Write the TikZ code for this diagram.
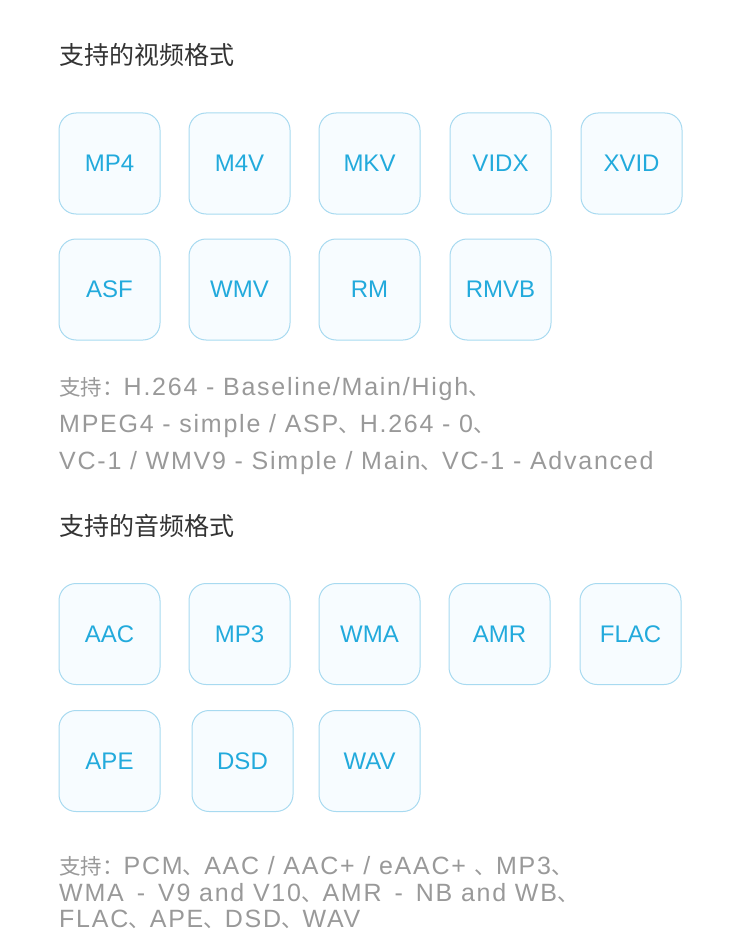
\documentclass[tikz,border=0pt]{standalone}
\usepackage{fontspec}
\setmainfont{Liberation Sans}
\newfontfamily\cjk{Noto Sans CJK SC}
\newfontfamily\notefont[LetterSpace=7]{Liberation Sans}
\definecolor{boxline}{HTML}{A8DAF0}
\definecolor{boxfill}{HTML}{F7FCFF}
\definecolor{fmtblue}{HTML}{22AADC}
\definecolor{titlegray}{HTML}{333333}
\definecolor{notegray}{HTML}{999999}
\newcommand{\zh}[1]{{\cjk\fontsize{21.5}{21.5}\selectfont #1}}
\newcommand{\dun}{\zh{、}}

\begin{document}
\begin{tikzpicture}[x=1pt,y=-1pt,
   fmt/.style={draw=boxline,fill=boxfill,line width=1pt,rounded corners=17pt,
               minimum size=101pt,inner sep=0pt,text=fmtblue,
               font=\fontsize{24}{24}\selectfont},
   title/.style={anchor=base west,inner sep=0pt,text=titlegray,
               font=\cjk\fontsize{25}{25}\selectfont},
   note/.style={anchor=base west,inner sep=0pt,text=notegray,
               font=\notefont\fontsize{25}{25}\selectfont}]

\useasboundingbox (0,0) rectangle (740,952);

% video
\node[title] (vtitle) at (59,65) {支持的视频格式};

\node[fmt] (mp4)  at (109.5,163.5) {MP4};
\node[fmt] (m4v)  at (239.5,163.5) {M4V};
\node[fmt] (mkv)  at (369.5,163.5) {MKV};
\node[fmt] (vidx) at (500.5,163.5) {VIDX};
\node[fmt] (xvid) at (631.5,163.5) {XVID};
\node[fmt] (asf)  at (109.5,289.5) {ASF};
\node[fmt] (wmv)  at (239.5,289.5) {WMV};
\node[fmt] (rm)   at (369.5,289.5) {RM};
\node[fmt] (rmvb) at (500.5,289.5) {RMVB};

\node[note] (vnote1) at (59,395) {\zh{支持：}H.264 - Baseline/Main/High\dun};
\node[note] (vnote2) at (59,432) {MPEG4 - simple / ASP\dun H.264 - 0\dun};
\node[note] (vnote3) at (59,469) {VC-1 / WMV9 - Simple / Main\dun VC-1 - Advanced};

% audio
\node[title] (atitle) at (59,535) {支持的音频格式};

\node[fmt] (aac)  at (109.5,634) {AAC};
\node[fmt] (mp3)  at (239.5,634) {MP3};
\node[fmt] (wma)  at (369.5,634) {WMA};
\node[fmt] (amr)  at (499.5,634) {AMR};
\node[fmt] (flac) at (630.5,634) {FLAC};
\node[fmt] (ape)  at (109.5,761) {APE};
\node[fmt] (dsd)  at (242.5,761) {DSD};
\node[fmt] (wav)  at (369.5,761) {WAV};

\node[note] (anote1) at (59,874) {\zh{支持：}PCM\dun AAC / AAC+ / eAAC+ \dun MP3\dun};
\node[note] (anote2) at (59,901) {WMA\hspace{13pt}-\hspace{13pt}V9 and V10\dun AMR\hspace{13pt}-\hspace{13pt}NB and WB\dun};
\node[note] (anote3) at (59,927) {FLAC\dun APE\dun DSD\dun WAV};

\end{tikzpicture}
\end{document}
